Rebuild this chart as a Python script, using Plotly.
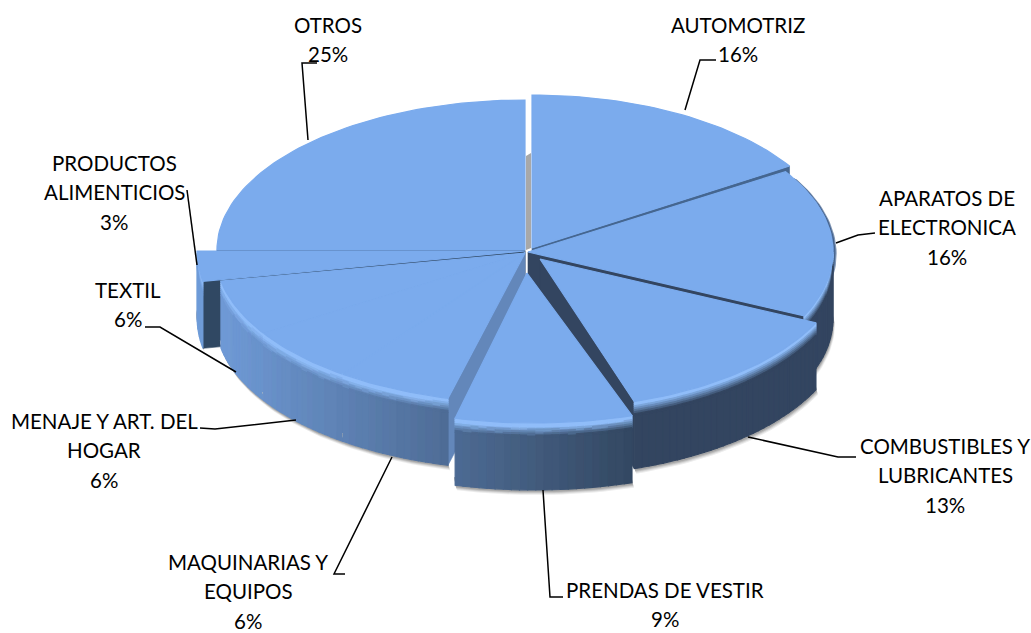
import math
import plotly.graph_objects as go

# ---- data -------------------------------------------------------------
categories = ["AUTOMOTRIZ", "APARATOS DE ELECTRONICA", "COMBUSTIBLES Y LUBRICANTES",
              "PRENDAS DE VESTIR", "MAQUINARIAS Y EQUIPOS", "MENAJE Y ART. DEL HOGAR",
              "TEXTIL", "PRODUCTOS ALIMENTICIOS", "OTROS"]
values = [16, 16, 13, 9, 6, 6, 6, 3, 25]
label_lines = [["AUTOMOTRIZ"], ["APARATOS DE", "ELECTRONICA"], ["COMBUSTIBLES Y", "LUBRICANTES"],
               ["PRENDAS DE VESTIR"], ["MAQUINARIAS Y", "EQUIPOS"], ["MENAJE Y ART. DEL", "HOGAR"],
               ["TEXTIL"], ["PRODUCTOS", "ALIMENTICIOS"], ["OTROS"]]

# ---- layout / style ---------------------------------------------------
W, H = 1031, 633
CX, CY, RX, RY, DEPTH = 526, 250, 305, 150, 67
TOP = (123, 170, 236)
HILITE = (143, 190, 250)
explode = [(6, -2), (2, 2), (14, 9), (8, 23), (-1, 3), (-1, 3), (-1, 3), (-1, 1), (-1, 0)]
scale = [(1, 1.02), (1, 1), (1, 1), (1.04, 1), (1.015, 1), (1.015, 1), (1.015, 1), (1.075, 1.08), (1.01, 1)]
apex_shift = {3: (-7, 0)}
paint_order = [8, 0, 1, 7, 6, 5, 4, 2, 3]
cut_start = {4: (99, 136, 187), 7: (47, 71, 99), 8: (52, 75, 110)}
cut_end = {0: (69, 101, 143), 1: (50, 70, 95), 2: (50, 70, 95)}
label_centers = [(738, 25), (947, 198), (945, 446), (665, 590), (248, 562), (104, 421),
                 (128, 290), (114, 163), (328, 25)]
line_step = 29.4
leaders = [[(716, 60), (700, 60), (685, 110)], [(875, 233), (858, 235), (836, 243)],
           [(856, 457), (838, 457), (748, 437)], [(563, 597), (550, 597), (543, 490)],
           [(345, 574), (334, 574), (392, 457)], [(200, 428), (215, 429), (296, 420)],
           [(145, 327), (160, 327), (236, 372)], [(187, 190), (197, 265)], [(317, 63), (302, 63), (308, 140)]]


def mix(a, b, t):
    t = max(0.0, min(1.0, t))
    return tuple(a[i] + (b[i] - a[i]) * t for i in range(3))


def css(c):
    return "rgb(%d,%d,%d)" % tuple(int(round(v / 3) * 3) for v in c)


def wall_colour(x):
    return mix((112, 155, 216), (50, 70, 95), (x - 215) / 425)


def arc(i, a0, a1, n=None, grow=1.0):
    dx, dy = explode[i]
    sx, sy = scale[i]
    n = n or max(2, int(abs(a1 - a0) / 1.5) + 1)
    pts = []
    for k in range(n + 1):
        a = math.radians(a0 + (a1 - a0) * k / n)
        pts.append((CX + dx + RX * sx * grow * math.sin(a), CY + dy - RY * sy * grow * math.cos(a)))
    return pts


def apex(i):
    sx, sy = apex_shift.get(i, (0, 0))
    return (CX + explode[i][0] + sx, CY + explode[i][1] + sy)


def poly(fig, pts_list, colour, lw=0.6):
    xs, ys = [], []
    for pts in pts_list:
        xs += [p[0] for p in pts] + [pts[0][0], None]
        ys += [p[1] for p in pts] + [pts[0][1], None]
    fig.add_trace(go.Scatter(x=xs, y=ys, mode="lines", fill="toself", fillcolor=colour,
                             line=dict(color=colour, width=lw), hoverinfo="skip", showlegend=False))


fig = go.Figure()

# slice angles from the values
angles = []
acc = 0
for v in values:
    angles.append((acc * 3.6, (acc + v) * 3.6))
    acc += v

# gap shade behind the first cut
poly(fig, [[(CX, CY), (CX + 5, CY - 2), (CX + 5, CY - 97), (CX, CY - 94)]], "rgb(168,168,168)", 0)

OFFS = [0, 2, 4, 6, 8, 10, 12, 14, DEPTH]
for i in paint_order:
    a0, a1 = angles[i]
    front0, front1 = max(a0, 90), min(a1, 270)
    # soft shadow
    if front1 > front0:
        pts = arc(i, front0, front1)
        for shift, col in ((5, (236, 236, 236)), (4, (215, 215, 215)), (3, (190, 190, 190)), (2, (165, 165, 165))):
            low = [(x + shift * 0.4, y + DEPTH + shift) for x, y in pts]
            high = [(x - 1, y + DEPTH - 8) for x, y in reversed(pts)]
            poly(fig, [low + high], css(col), 0)
    # radial cut faces
    ap = apex(i)
    if i in cut_end:
        c = arc(i, a1, a1, 1)[0]
        poly(fig, [[ap, c, (c[0], c[1] + DEPTH), (ap[0], ap[1] + DEPTH)]], css(cut_end[i]))
    if i in cut_start:
        c = arc(i, a0, a0, 1)[0]
        poly(fig, [[ap, c, (c[0], c[1] + DEPTH), (ap[0], ap[1] + DEPTH)]], css(cut_start[i]))
    # thin shaded rim on the upper right of the second slice
    if i == 1:
        rim = arc(i, a0 + 3, 100)
        for grow, col, drop in ((1.012, (130, 150, 180), 2), (1.008, (70, 100, 140), 1.5), (1.004, (90, 125, 180), 1)):
            rim_g = arc(i, a0 + 3, 100, grow=grow)
            poly(fig, [[(x, y + drop) for x, y in rim_g] + list(reversed(rim))], css(col), 0)
    # outer wall
    if front1 > front0:
        pts = arc(i, front0, front1)
        groups = {}
        for p, q in zip(pts[:-1], pts[1:]):
            base = wall_colour((p[0] + q[0]) / 2)
            for o0, o1 in zip(OFFS[:-1], OFFS[1:]):
                if o0 < 2:
                    col = HILITE
                elif o0 < 14:
                    col = mix(HILITE, base, (o0 - 2) / 10)
                else:
                    col = base
                groups.setdefault(css(col), []).append(
                    [(p[0], p[1] + o0), (q[0], q[1] + o0), (q[0], q[1] + o1), (p[0], p[1] + o1)])
        for col, quads in sorted(groups.items(), key=lambda kv: kv[1][0][0][0]):
            poly(fig, quads, col, 1.1)
    # top face
    poly(fig, [[ap] + arc(i, a0, a1)], css(TOP), 1.2)

# leader lines
for pts in leaders:
    fig.add_trace(go.Scatter(x=[p[0] for p in pts], y=[p[1] for p in pts], mode="lines",
                             line=dict(color="black", width=1.5), hoverinfo="skip", showlegend=False))

# labels
ann = []
for lines, v, (lx, ly) in zip(label_lines, values, label_centers):
    for k, t in enumerate(lines + ["%d%%" % v]):
        ann.append(dict(x=lx, y=ly + k * line_step, text=t, showarrow=False, xanchor="center",
                        yanchor="middle", font=dict(family="Lato", size=20.5, color="black")))

fig.update_layout(width=W, height=H, margin=dict(l=0, r=0, t=0, b=0), paper_bgcolor="white",
                  plot_bgcolor="white", annotations=ann, showlegend=False,
                  xaxis=dict(range=[0, W], visible=False, fixedrange=True),
                  yaxis=dict(range=[H, 0], visible=False, fixedrange=True))
fig.write_html("out.html", post_script="document.body.style.margin='0';document.body.style.overflow='hidden';",
               config={"displayModeBar": False})
